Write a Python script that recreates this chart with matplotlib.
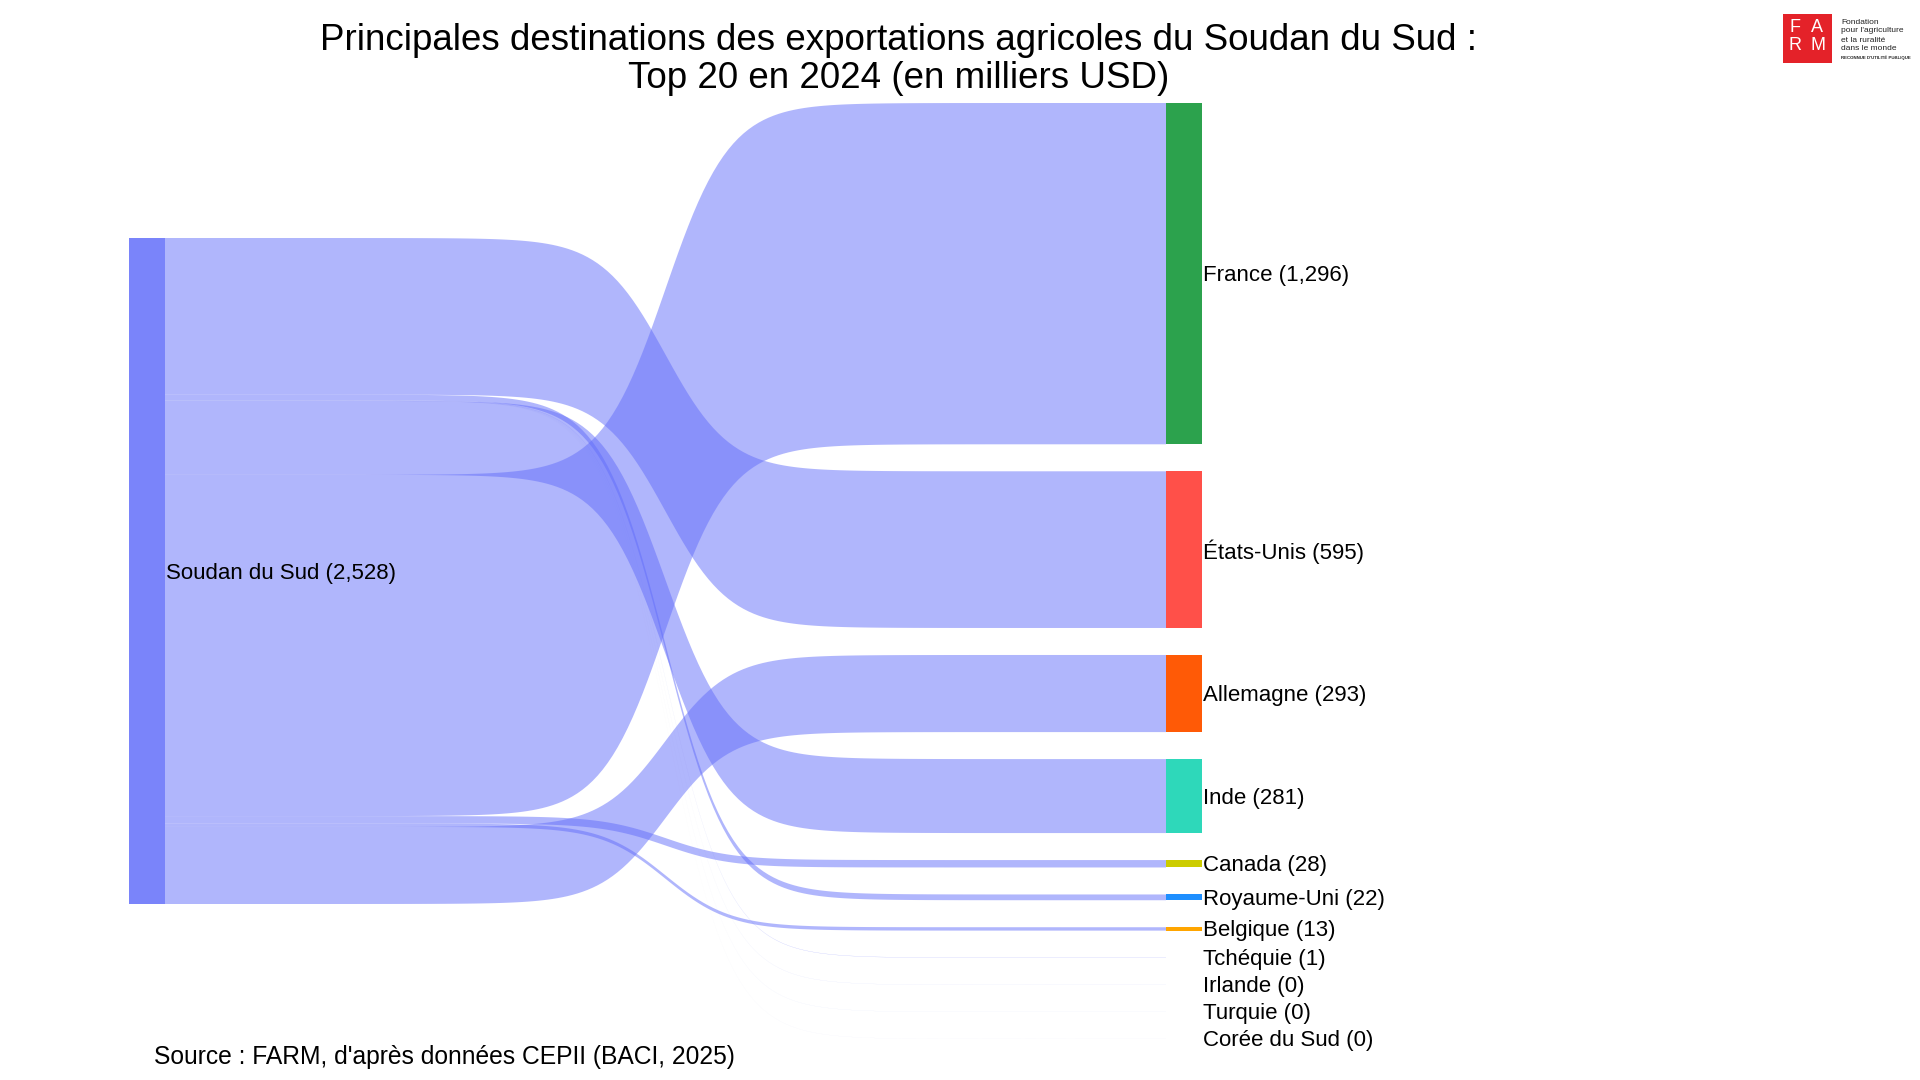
import numpy as np
import matplotlib.pyplot as plt
from matplotlib.patches import Polygon, Rectangle

plt.rcParams['font.family'] = ['Liberation Sans', 'DejaVu Sans']

# data (milliers USD)
source = "Soudan du Sud"
destinations = ["France", "États-Unis", "Allemagne", "Inde", "Canada", "Royaume-Uni",
                "Belgique", "Tchéquie", "Irlande", "Turquie", "Corée du Sud"]
values = [1295.6, 594.8, 292.7, 280.8, 28.1, 21.9, 12.8, 0.9, 0.3, 0.2, 0.1]
node_colors = ["#2ca24d", "#ff5049", "#ff5a06", "#2ed8ba", "#cccc00", "#1e8fff",
               "#ffa500", "#d0d0ff", "#d0e8ff", "#e0e0e0", "#e0e0e0"]
# order in which links leave the source node (top to bottom)
link_order = ["États-Unis", "Royaume-Uni", "Tchéquie", "Irlande", "Turquie", "Corée du Sud",
              "Inde", "France", "Canada", "Belgique", "Allemagne"]

title_lines = ["Principales destinations des exportations agricoles du Soudan du Sud :",
               "Top 20 en 2024 (en milliers USD)"]
note = "Source : FARM, d'après données CEPII (BACI, 2025)"

fig = plt.figure(figsize=(19.2, 10.8), dpi=100)
ax = fig.add_axes([0, 0, 1, 1])
ax.set_xlim(0, 1920)
ax.set_ylim(1080, 0)
ax.axis('off')

# layout (pixel space)
src_x0, src_x1 = 129, 165
tgt_x0, tgt_x1 = 1166, 1202
center_y = 571
pad = 27
col_height = 936
total = sum(values)
k = (col_height - pad * (len(values) - 1)) / total

# target nodes
tgt_pos = {}
y = center_y - col_height / 2
for name, v, c in zip(destinations, values, node_colors):
    h = v * k
    tgt_pos[name] = (y, y + h)
    ax.add_patch(Rectangle((tgt_x0, y), tgt_x1 - tgt_x0, h, facecolor=c, edgecolor='none', zorder=3))
    ax.text(tgt_x1 + 1, y + h / 2 + 2, f"{name} ({v:,.0f})", fontsize=16, va='center', ha='left',
            color='black', zorder=4)
    y += h + pad

# source node
src_h = total * k
src_top = center_y - src_h / 2
ax.add_patch(Rectangle((src_x0, src_top), src_x1 - src_x0, src_h, facecolor='#636efa',
                       alpha=0.85, edgecolor='none', zorder=3))
ax.text(src_x1 + 1, center_y + 2, f"{source} ({total:,.0f})", fontsize=16, va='center', ha='left',
        color='black', zorder=4)

# links: steep sigmoid between source and target
xs = np.linspace(src_x1, tgt_x0, 200)
u = (xs - src_x1) / (tgt_x0 - src_x1)
steep = 31
lg = 1 / (1 + np.exp(-steep * (u - 0.5)))
f = (lg - lg[0]) / (lg[-1] - lg[0])

s = src_top
for name in link_order:
    v = values[destinations.index(name)]
    h = v * k
    t0, t1 = tgt_pos[name]
    top = s + (t0 - s) * f
    bot = (s + h) + (t1 - s - h) * f
    pts = np.vstack([np.column_stack([xs, top]), np.column_stack([xs[::-1], bot[::-1]])])
    ax.add_patch(Polygon(pts, closed=True, facecolor='#636efa', alpha=0.5,
                         edgecolor='none', zorder=2))
    s += h

# titles
ax.text(899, 41, title_lines[0], fontsize=26.5, ha='center', va='center', color='black')
ax.text(899, 78, title_lines[1], fontsize=26.5, ha='center', va='center', color='black')
ax.text(154, 1057, note, fontsize=17.7, ha='left', va='center', color='black')

# logo FARM
ax.add_patch(Rectangle((1783, 14), 49, 49, facecolor='#e42229', edgecolor='none'))
for letter, lx, ly in [("F", 1795, 28), ("A", 1817, 28), ("R", 1795, 45), ("M", 1818, 45)]:
    ax.text(lx, ly, letter, color='white', fontsize=13, ha='center', va='center')
for i, line in enumerate(["Fondation", "pour l'agriculture", "et la ruralité", "dans le monde"]):
    ax.text(1841, 22 + 9 * i, line, fontsize=6.0, ha='left', va='center', color='#222222')
ax.text(1841, 58, "RECONNUE D'UTILITÉ PUBLIQUE", fontsize=3.2, ha='left', va='center',
        color='#222222', fontweight='bold')

fig.savefig('out.png', dpi=100)
